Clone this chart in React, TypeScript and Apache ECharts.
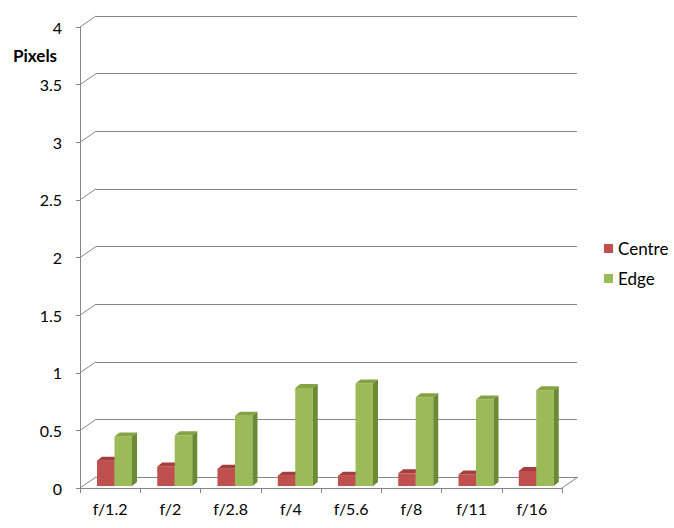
import React, { useEffect, useRef } from "react";
import * as echarts from "echarts";

const categories = ["f/1.2", "f/2", "f/2.8", "f/4", "f/5.6", "f/8", "f/11", "f/16"];
const centreValues = [0.22, 0.17, 0.15, 0.09, 0.09, 0.11, 0.1, 0.13];
const edgeValues = [0.43, 0.44, 0.61, 0.85, 0.89, 0.77, 0.75, 0.83];
const yTicks = [0, 0.5, 1, 1.5, 2, 2.5, 3, 3.5, 4];

const FONT = "Lato, 'Open Sans', sans-serif";
const GRID_COLOR = "#868686";

const palettes = [
  { front: "#C0504D", top: "#A43F3C", side: "#8E3330" },
  { front: "#9BBB59", top: "#86A343", side: "#6B8A34" },
];

function makeBarRender(k: number) {
  return (params: any, api: any) => {
    const i = api.value(0);
    const v = api.value(1);
    const base = api.coord([i, 0]);
    const top = api.coord([i, v]);
    const band = api.size([1, 0])[0];
    const left = base[0] - band / 2;
    const w = 17.5;
    const x0 = left + 17 + k * w;
    const yb = base[1] - 2;
    const yt = top[1] - 2;
    const dx = 5;
    const dy = -4;
    const p = palettes[k];
    return {
      type: "group",
      children: [
        {
          type: "rect",
          shape: { x: x0, y: yt, width: w, height: yb - yt },
          style: { fill: p.front },
        },
        {
          type: "polygon",
          shape: {
            points: [
              [x0, yt],
              [x0 + w, yt],
              [x0 + w + dx, yt + dy],
              [x0 + dx, yt + dy],
            ],
          },
          style: { fill: p.top },
        },
        {
          type: "polygon",
          shape: {
            points: [
              [x0 + w, yt],
              [x0 + w + dx, yt + dy],
              [x0 + w + dx, yb + dy],
              [x0 + w, yb],
            ],
          },
          style: { fill: p.side },
        },
      ],
    };
  };
}

function connectorRender(params: any, api: any) {
  const v = api.value(0);
  const p = api.coord([0, v]);
  const band = api.size([1, 0])[0];
  const left = p[0] - band / 2;
  const children: any[] = [
    {
      type: "line",
      shape: { x1: left, y1: p[1], x2: left + 16, y2: p[1] - 11 },
      style: { stroke: GRID_COLOR, lineWidth: 1 },
    },
  ];
  if (v === 0) {
    const r = api.coord([categories.length - 1, 0])[0] + band / 2;
    children.push({
      type: "line",
      shape: { x1: r, y1: p[1], x2: r + 16, y2: p[1] - 11 },
      style: { stroke: GRID_COLOR, lineWidth: 1 },
    });
  }
  return { type: "group", children };
}

export default function App() {
  const ref = useRef<HTMLDivElement>(null);
  useEffect(() => {
    if (!ref.current) return;
    const chart = echarts.init(ref.current, undefined, { renderer: "svg" });
    chart.setOption({
      animation: false,
      backgroundColor: "#ffffff",
      textStyle: { fontFamily: FONT },
      grid: [
        { left: 80, right: 112, top: 27, bottom: 40 },
        { left: 96, right: 97, top: 16, bottom: 51 },
      ],
      xAxis: [
        {
          type: "category",
          gridIndex: 0,
          data: categories,
          boundaryGap: true,
          axisLine: { show: true, lineStyle: { color: GRID_COLOR } },
          axisTick: { show: true, length: 5, alignWithLabel: false, lineStyle: { color: GRID_COLOR } },
          axisLabel: { color: "#000", fontSize: 16, fontFamily: FONT, margin: 12 },
        },
        {
          type: "value",
          gridIndex: 1,
          min: 0,
          max: 1,
          show: false,
        },
      ],
      yAxis: [
        {
          type: "value",
          gridIndex: 0,
          min: 0,
          max: 4,
          interval: 0.5,
          axisLine: { show: true, lineStyle: { color: GRID_COLOR } },
          axisTick: { show: true, length: 4, lineStyle: { color: GRID_COLOR } },
          splitLine: { show: false },
          axisLabel: { color: "#000", fontSize: 16, fontFamily: FONT, margin: 18 },
        },
        {
          type: "value",
          gridIndex: 1,
          min: 0,
          max: 4,
          interval: 0.5,
          axisLine: { show: false },
          axisTick: { show: false },
          axisLabel: { show: false },
          splitLine: { show: true, lineStyle: { color: GRID_COLOR, width: 1 } },
        },
      ],
      legend: {
        data: ["Centre", "Edge"],
        orient: "vertical",
        left: 604,
        top: 240,
        padding: 0,
        icon: "rect",
        itemWidth: 9,
        itemHeight: 9,
        itemGap: 13,
        textStyle: { color: "#000", fontSize: 17, fontFamily: FONT, lineHeight: 17 },
      },
      graphic: [
        {
          type: "text",
          left: 13,
          top: 47,
          style: { text: "Pixels", font: `bold 17px ${FONT}`, fill: "#000" },
        },
      ],
      series: [
        {
          type: "custom",
          name: "connectors",
          xAxisIndex: 0,
          yAxisIndex: 0,
          silent: true,
          data: yTicks.map((t) => [t]),
          encode: { y: 0 },
          renderItem: connectorRender,
          z: 1,
        },
        {
          type: "custom",
          name: "Centre",
          xAxisIndex: 0,
          yAxisIndex: 0,
          itemStyle: { color: palettes[0].front },
          data: centreValues.map((v, i) => [i, v]),
          encode: { x: 0, y: 1 },
          renderItem: makeBarRender(0),
          z: 3,
        },
        {
          type: "custom",
          name: "Edge",
          xAxisIndex: 0,
          yAxisIndex: 0,
          itemStyle: { color: palettes[1].front },
          data: edgeValues.map((v, i) => [i, v]),
          encode: { x: 0, y: 1 },
          renderItem: makeBarRender(1),
          z: 4,
        },
      ],
    });
    return () => chart.dispose();
  }, []);
  return <div ref={ref} style={{ width: 674, height: 528, position: "absolute", left: 0, top: 0 }} />;
}
